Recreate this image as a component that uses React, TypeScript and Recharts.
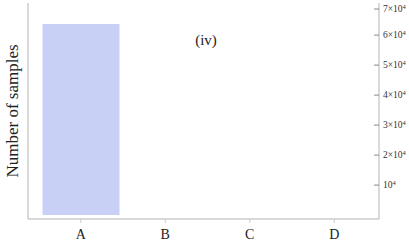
import { Bar, BarChart, XAxis, YAxis } from "recharts";

const categories = ["A", "B", "C", "D"];
const samples = [63700, 0, 0, 0];
const yTicks = [10000, 20000, 30000, 40000, 50000, 60000, 70000];

const data = categories.map((name, i) => ({ name, samples: samples[i] }));

const FONT = "'Liberation Serif', 'DejaVu Serif', serif";
const FRAME = "#b3b3b3";

function RightTick(props: any) {
  const { x, y, payload } = props;
  const n = payload.value / 10000;
  const axisX = x - 4;
  return (
    <g>
      <line x1={axisX - 5} y1={y} x2={axisX} y2={y} stroke="#888" strokeWidth={1} />
      <text x={x} y={y} dy={3} fontSize={9.5} fontFamily={FONT} fill="#333" textAnchor="start">
        {n === 1 ? "10" : `${n}×10`}
        <tspan dy={-3.5} fontSize={6.5}>4</tspan>
      </text>
    </g>
  );
}

function BottomTick(props: any) {
  const { x, y, payload } = props;
  return (
    <text x={x} y={y} dy={14} fontSize={14} fontFamily={FONT} fill="#222" textAnchor="middle">
      {payload.value}
    </text>
  );
}

export default function App() {
  return (
    <div style={{ position: "absolute", left: 0, top: 0, background: "#fff" }}>
      <BarChart
        width={409}
        height={242}
        data={data}
        margin={{ top: 3, right: 0, bottom: 0, left: 0 }}
      >
        <XAxis
          xAxisId="edge"
          type="number"
          dataKey="idx"
          domain={[-0.5 - 10.5 / 84.5, 3.5 + 2.5 / 84.5]}
          ticks={[-0.455, 3.45]}
          height={0}
          axisLine={false}
          tick={false}
          tickSize={4}
          mirror
          tickLine={{ stroke: "#555" }}
          allowDataOverflow
        />
        <XAxis
          dataKey="name"
          height={23}
          padding={{ left: 10.5, right: 2.5 }}
          axisLine={{ stroke: FRAME }}
          tickLine={{ stroke: "#ccc" }}
          tickSize={4}
          mirror={false}
          tick={<BottomTick />}
        />
        <XAxis xAxisId="top" orientation="top" dataKey="name" height={0} tick={false} tickLine={false} axisLine={{ stroke: FRAME }} />
        <YAxis
          yAxisId="left"
          width={28}
          tick={false}
          tickLine={false}
          axisLine={{ stroke: FRAME }}
          label={{
            value: "Number of samples",
            angle: -90,
            position: "center",
            dx: -2,
            style: { fontSize: 17, fontFamily: FONT, fill: "#222" },
          }}
        />
        <YAxis
          orientation="right"
          width={30}
          domain={[-1300, 70700]}
          ticks={yTicks}
          tickLine={false}
          tickSize={4}
          tickMargin={0}
          axisLine={{ stroke: FRAME }}
          tick={<RightTick />}
          allowDataOverflow
        />
        <Bar dataKey="samples" fill="#c9d0f5" barSize={77} isAnimationActive={false} />
        <text x={206} y={45} textAnchor="middle" fontSize={15} fontFamily={FONT} fill="#222">
          (iv)
        </text>
      </BarChart>
    </div>
  );
}
